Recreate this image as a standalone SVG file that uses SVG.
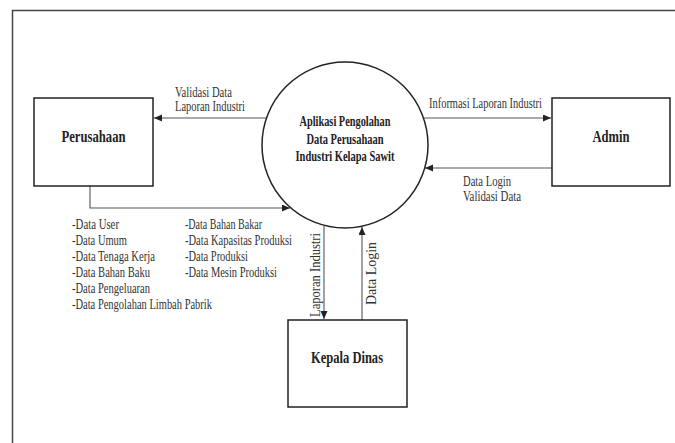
<svg xmlns="http://www.w3.org/2000/svg" width="675" height="443" viewBox="0 0 675 443">
<style>
.box{fill:#fff;stroke:#222;stroke-width:1.5}
.frame{fill:none;stroke:#444;stroke-width:1.5}
.conn{fill:none;stroke:#555;stroke-width:1.1}
.title{font-family:"Liberation Serif","Times New Roman",serif;font-weight:bold;fill:#222;text-anchor:middle}
.lbl{font-family:"Liberation Serif","Times New Roman",serif;font-size:14px;fill:#333}
</style>
<defs>
<marker id="ah" markerUnits="userSpaceOnUse" markerWidth="9" markerHeight="8" refX="8" refY="3.5" orient="auto">
<path d="M0,0 L8,3.5 L0,7 z" fill="#222"/>
</marker>
</defs>
<rect width="675" height="443" fill="#fff"/>
<path class="frame" d="M12.5,443 V10.5 H675"/>

<g id="connectors">
<line class="conn" x1="266" y1="118" x2="154" y2="118" marker-end="url(#ah)"/>
<path class="conn" d="M90,186 V208 H290" marker-end="url(#ah)"/>
<line class="conn" x1="424" y1="118" x2="551" y2="118" marker-end="url(#ah)"/>
<line class="conn" x1="552" y1="168" x2="425" y2="168" marker-end="url(#ah)"/>
<line class="conn" x1="324" y1="226" x2="324" y2="319" marker-end="url(#ah)"/>
<line class="conn" x1="362" y1="320" x2="362" y2="227" marker-end="url(#ah)"/>
<text class="lbl" x="175" y="97" textLength="57" lengthAdjust="spacingAndGlyphs">Validasi Data</text>
<text class="lbl" x="175" y="111" textLength="70" lengthAdjust="spacingAndGlyphs">Laporan Industri</text>
<text class="lbl" x="429" y="108" textLength="113" lengthAdjust="spacingAndGlyphs">Informasi Laporan Industri</text>
<text class="lbl" x="463" y="186" textLength="48" lengthAdjust="spacingAndGlyphs">Data Login</text>
<text class="lbl" x="463" y="201" textLength="58" lengthAdjust="spacingAndGlyphs">Validasi Data</text>
<text class="lbl" transform="translate(320,317) rotate(-90)" textLength="84" lengthAdjust="spacingAndGlyphs">Laporan Industri</text>
<text class="lbl" transform="translate(376,305) rotate(-90)" textLength="63" lengthAdjust="spacingAndGlyphs">Data Login</text>
<g id="data-list">
<text class="lbl" x="72" y="229" textLength="47" lengthAdjust="spacingAndGlyphs">-Data User</text>
<text class="lbl" x="72" y="245" textLength="55" lengthAdjust="spacingAndGlyphs">-Data Umum</text>
<text class="lbl" x="72" y="261" textLength="83" lengthAdjust="spacingAndGlyphs">-Data Tenaga Kerja</text>
<text class="lbl" x="72" y="277" textLength="78" lengthAdjust="spacingAndGlyphs">-Data Bahan Baku</text>
<text class="lbl" x="72" y="293" textLength="78" lengthAdjust="spacingAndGlyphs">-Data Pengeluaran</text>
<text class="lbl" x="72" y="309" textLength="140" lengthAdjust="spacingAndGlyphs">-Data Pengolahan Limbah Pabrik</text>
<text class="lbl" x="185" y="229" textLength="77" lengthAdjust="spacingAndGlyphs">-Data Bahan Bakar</text>
<text class="lbl" x="185" y="245" textLength="107" lengthAdjust="spacingAndGlyphs">-Data Kapasitas Produksi</text>
<text class="lbl" x="185" y="261" textLength="63" lengthAdjust="spacingAndGlyphs">-Data Produksi</text>
<text class="lbl" x="185" y="277" textLength="92" lengthAdjust="spacingAndGlyphs">-Data Mesin Produksi</text>
</g>
</g>

<g id="process">
<circle class="box" cx="345" cy="145" r="83"/>
<text class="title" x="345" y="126" font-size="14" textLength="91" lengthAdjust="spacingAndGlyphs">Aplikasi Pengolahan</text>
<text class="title" x="345" y="143.5" font-size="14" textLength="77" lengthAdjust="spacingAndGlyphs">Data Perusahaan</text>
<text class="title" x="345" y="161" font-size="14" textLength="99" lengthAdjust="spacingAndGlyphs">Industri Kelapa Sawit</text>
</g>

<g id="perusahaan">
<rect class="box" x="34" y="98" width="119" height="88"/>
<text class="title" x="93.5" y="142" font-size="16" textLength="64" lengthAdjust="spacingAndGlyphs">Perusahaan</text>
</g>

<g id="admin">
<rect class="box" x="552" y="98" width="118" height="88"/>
<text class="title" x="611" y="142" font-size="16" textLength="37" lengthAdjust="spacingAndGlyphs">Admin</text>
</g>

<g id="kepala-dinas">
<rect class="box" x="288" y="320" width="119" height="87"/>
<text class="title" x="347" y="363" font-size="16" textLength="72" lengthAdjust="spacingAndGlyphs">Kepala Dinas</text>
</g>
</svg>
